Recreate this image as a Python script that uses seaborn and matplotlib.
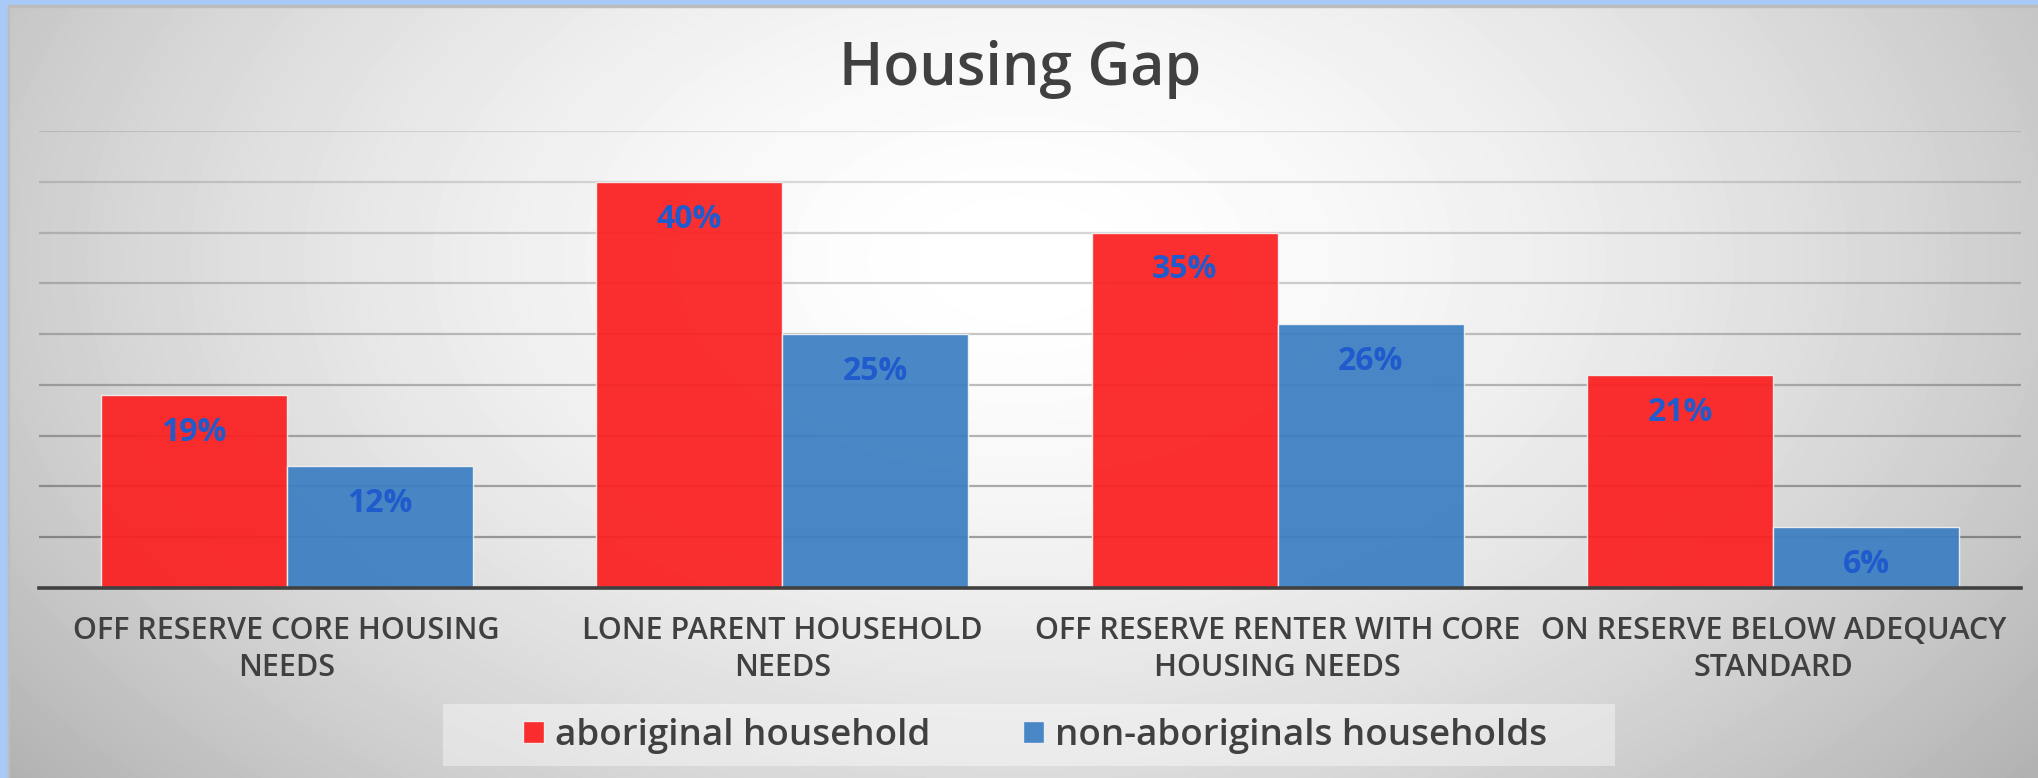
import numpy as np
import pandas as pd
import matplotlib
matplotlib.use("Agg")
import matplotlib.pyplot as plt
from matplotlib.patches import Rectangle
from matplotlib import font_manager as fm
import seaborn as sns

# ---- data ----
categories = [
    "OFF RESERVE CORE HOUSING\nNEEDS",
    "LONE PARENT HOUSEHOLD\nNEEDS",
    "OFF RESERVE RENTER WITH CORE\nHOUSING NEEDS",
    "ON RESERVE BELOW ADEQUACY\nSTANDARD",
]
series_names = ["aboriginal household", "non-aboriginals households"]
aboriginal = [0.19, 0.40, 0.35, 0.21]
non_aboriginal = [0.12, 0.25, 0.26, 0.06]
title = "Housing Gap"

df = pd.DataFrame({
    "category": categories * 2,
    "value": aboriginal + non_aboriginal,
    "series": [series_names[0]] * 4 + [series_names[1]] * 4,
})

sns.set_theme(style="white")
plt.rcParams["font.family"] = ["Open Sans", "DejaVu Sans"]

# pick a semibold face if one is installed
semi_family = "Open Sans"
semi_weight = "bold"
for fam in ["Open Sans", "Noto Sans", "Lato"]:
    for f in fm.fontManager.ttflist:
        if f.name == fam and f.weight in (500, 600, "medium", "semibold", "demibold"):
            semi_family, semi_weight = fam, f.weight
            break
    if semi_weight != "bold":
        break

W, H = 2038, 778
fig = plt.figure(figsize=(W / 100, H / 100), dpi=100)

# background gradient
bg = fig.add_axes([0, 0, 1, 1], zorder=-10)
yy, xx = np.mgrid[0:H, 0:W]
dx = (xx - 1019) / 1019.0
dy = (yy - 260) / 640.0
r = np.sqrt(dx ** 2 + dy ** 2)
val = 1.0 - 0.2 * np.clip(r, 0, 1.5) ** 1.7
bg.imshow(val, cmap="gray", vmin=0, vmax=1, aspect="auto", extent=[0, 1, 0, 1],
          interpolation="bilinear")
bg.set_xlim(0, 1)
bg.set_ylim(0, 1)
bg.axis("off")

# blue frame on left/top
fig.patches.append(Rectangle((0, 0), 8 / W, 1, transform=fig.transFigure,
                             color="#a9c9f7", zorder=-5))
fig.patches.append(Rectangle((0, 1 - 5 / H), 1, 5 / H, transform=fig.transFigure,
                             color="#a9c9f7", zorder=-5))
fig.patches.append(Rectangle((8 / W, 0), 1.5 / W, 1 - 5 / H, transform=fig.transFigure,
                             color="#bdbdbd", zorder=-5))
fig.patches.append(Rectangle((8 / W, 1 - 6.5 / H), 1 - 8 / W, 1.5 / H,
                             transform=fig.transFigure, color="#bdbdbd", zorder=-5))

ax = fig.add_axes([39 / W, 190 / H, 1982 / W, 457 / H])
ax.set_facecolor("none")

sns.barplot(data=df, x="category", y="value", hue="series", hue_order=series_names,
            palette={series_names[0]: "#fb1f1f", series_names[1]: "#3c7ec2"},
            saturation=1, width=0.75, gap=0, alpha=0.93,
            edgecolor="#f2f2f2", linewidth=1.0, ax=ax, legend=True, zorder=3)

ax.set_xlim(-0.5, len(categories) - 0.5)
ax.set_ylim(0, 0.45)
ax.set_yticks(np.arange(0, 0.451, 0.05))
ax.set_yticklabels([])
ax.tick_params(axis="y", length=0)
ax.grid(False)

# horizontal gridlines, fading toward the top
yt = ax.get_yticks()
for i, y in enumerate(yt):
    if i == 0:
        continue
    a = 0.34 - 0.24 * (i - 1) / (len(yt) - 2)
    ax.axhline(y, color="black", alpha=a, linewidth=1.6, zorder=1)

for s in ["top", "right", "left"]:
    ax.spines[s].set_visible(False)
ax.spines["bottom"].set_color("#404040")
ax.spines["bottom"].set_linewidth(2.6)
ax.spines["bottom"].set_zorder(5)

ax.set_xlabel("")
ax.set_ylabel("")
ax.tick_params(axis="x", length=0, pad=20, labelsize=22, labelcolor="#404040")
for t in ax.get_xticklabels():
    t.set_linespacing(1.3)
    t.set_fontfamily([semi_family, "DejaVu Sans"])
    t.set_fontweight(semi_weight if semi_weight != "bold" else "normal")

# value labels inside the bars near the top
for cont in ax.containers:
    for p in cont.patches:
        h = p.get_height()
        ax.annotate(f"{h*100:.0f}%", (p.get_x() + p.get_width() / 2, h),
                    xytext=(0, -15), textcoords="offset points",
                    ha="center", va="top", fontsize=23, color="#1f5bcc",
                    family=["Open Sans", "DejaVu Sans"], fontweight="bold",
                    zorder=6)

# title
fig.text(1020 / W, 1 - 85 / H, title, ha="center", va="baseline",
         fontsize=42.5, color="#404040", family=[semi_family, "DejaVu Sans"],
         fontweight=semi_weight)

# legend
handles, labels = ax.get_legend_handles_labels()
ax.get_legend().remove()
fig.patches.append(Rectangle((443 / W, 12 / H), 1172 / W, 62 / H,
                             transform=fig.transFigure, facecolor="white",
                             alpha=0.4, edgecolor="none", zorder=-4))
leg = fig.legend(handles, labels, loc="center", bbox_to_anchor=(1035 / W, 1 - 736 / H),
                 ncol=2, frameon=False, handlelength=0.58,
                 handleheight=0.58, handletextpad=0.3, columnspacing=2.5,
                 labelcolor="#404040",
                 prop={"size": 26.5, "family": [semi_family, "DejaVu Sans"],
                       "weight": semi_weight if semi_weight != "bold" else "normal"})

fig.savefig("out.png", dpi=100)
